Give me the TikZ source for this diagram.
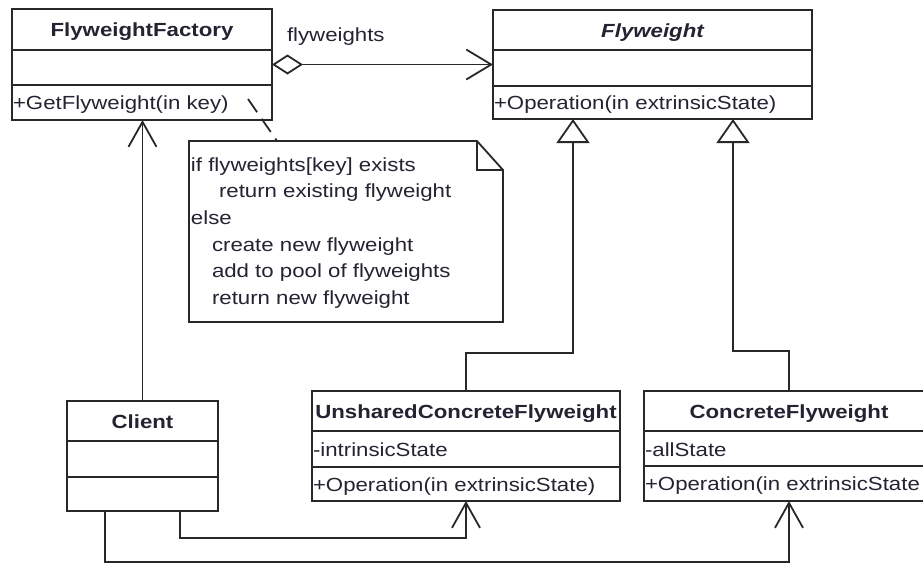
\documentclass[tikz,border=0pt]{standalone}
\usepackage{fontspec}
\setmainfont[FakeStretch=1.17]{Liberation Sans}
\usetikzlibrary{arrows.meta,fit}
\definecolor{textc}{RGB}{35,35,50}
\definecolor{linec}{RGB}{40,40,40}
\begin{document}
\begin{tikzpicture}[x=0.5pt,y=-0.5pt,
  every node/.style={font=\fontsize{9.5pt}{13.35pt}\selectfont, text=textc, inner sep=0pt, outer sep=0pt},
  classbox/.style={draw=linec, line width=1pt},
  divider/.style={draw=linec, line width=1pt},
  ctitle/.style={anchor=base, font=\fontsize{9.5pt}{13.35pt}\selectfont\bfseries},
  member/.style={anchor=base west},
  conn/.style={draw=linec, line width=0.9pt},
  assoc/.style={conn, -{Straight Barb[length=12.5pt,width=14pt,line width=0.9pt]}},
  inherit/.style={conn, -{Triangle[open,length=12pt,width=16.5pt,line width=0.9pt,fill=white]}},
  aggr/.style={conn, {Diamond[open,length=15.5pt,width=10pt,line width=0.9pt,fill=white]}-{Straight Barb[length=12.5pt,width=15pt,line width=0.9pt]}},
  notelink/.style={conn, dash pattern=on 8pt off 4pt},
  notetext/.style={anchor=base west}
]
\useasboundingbox (0,0) rectangle (923,563);

% FlyweightFactory
\node[classbox, fit={(12,9) (272,120)}] (factory) {};
\draw[divider] (12,50) -- (272,50);
\draw[divider] (12,85) -- (272,85);
\node[ctitle] (factoryT) at (142,36.5) {FlyweightFactory};
\node[member] (factoryM) at (13,109) {+GetFlyweight(in key)};

% Flyweight
\node[classbox, fit={(493,10) (812,119)}] (flyweight) {};
\draw[divider] (493,50) -- (812,50);
\draw[divider] (493,86) -- (812,86);
\node[ctitle, font=\fontsize{9.5pt}{13.35pt}\selectfont\bfseries\itshape] (flyweightT) at (652.5,37) {Flyweight};
\node[member] (flyweightM) at (494,109.5) {+Operation(in extrinsicState)};

% Client
\node[classbox, fit={(67,401) (218,511)}] (client) {};
\draw[divider] (67,441) -- (218,441);
\draw[divider] (67,477) -- (218,477);
\node[ctitle] (clientT) at (142.5,428) {Client};

% UnsharedConcreteFlyweight
\node[classbox, fit={(312,391) (620,501)}] (unshared) {};
\draw[divider] (312,431) -- (620,431);
\draw[divider] (312,467) -- (620,467);
\node[ctitle] (unsharedT) at (466,418) {UnsharedConcreteFlyweight};
\node[member] (unsharedA) at (313,456) {-intrinsicState};
\node[member] (unsharedM) at (313,491) {+Operation(in extrinsicState)};

% ConcreteFlyweight (runs past the right edge, as in the reference)
\node[classbox, fit={(644,391) (934,501)}] (concrete) {};
\draw[divider] (644,431) -- (934,431);
\draw[divider] (644,466) -- (934,466);
\node[ctitle] (concreteT) at (789,418) {ConcreteFlyweight};
\node[member] (concreteA) at (645,456) {-allState};
\node[member] (concreteM) at (645,490.5) {+Operation(in extrinsicState};

% Note
\node[fit={(189,141) (503,322)}] (note) {};
\draw[conn, fill=white] (note.north west) -- ([xshift=-13pt]note.north east)
  -- ([yshift=-14.5pt]note.north east) -- (note.south east) -- (note.south west) -- cycle;
\draw[conn] ([xshift=-13pt]note.north east) -- ([xshift=-13pt,yshift=-14.5pt]note.north east)
  -- ([yshift=-14.5pt]note.north east);
\node[notetext] (n1) at (191,171) {if flyweights[key] exists};
\node[notetext] (n2) at (219,197.7) {return existing flyweight};
\node[notetext] (n3) at (191,224.3) {else};
\node[notetext] (n4) at (212,251) {create new flyweight};
\node[notetext] (n5) at (212,277.7) {add to pool of flyweights};
\node[notetext] (n6) at (212,304.3) {return new flyweight};
\coordinate (nl) at (248,99);
\draw[notelink] (nl) -- ([xshift=44pt]note.north west);

% Connectors
\draw[aggr] (factory.east) -- (flyweight.west);
\node[anchor=base west] (aggLabel) at (287,41) {flyweights};

\draw[assoc] (client.north) -- (client.north |- factory.south);

\coordinate (g1) at (573,353);
\draw[inherit] (unshared.north) |- (g1) -- (g1 |- flyweight.south);
\coordinate (g2) at (733,351);
\draw[inherit] (concrete.north) |- (g2) -- (g2 |- flyweight.south);

\coordinate (c1) at (180,538);
\draw[assoc] (c1 |- client.south) -- (c1) -- (c1 -| unshared.south) -- (unshared.south);
\coordinate (c2) at (105,562);
\draw[assoc] (c2 |- client.south) -- (c2) -- (c2 -| concrete.south) -- (concrete.south);
\end{tikzpicture}
\end{document}
